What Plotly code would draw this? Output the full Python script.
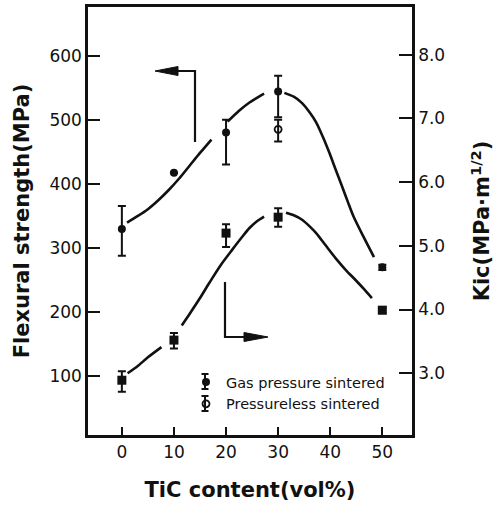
import plotly.graph_objects as go

# ---- data ----
ticx = [0, 10, 20, 30, 50]

# Flexural strength (MPa), gas pressure sintered
strength_gas = [330, 418, 481, 545, 270]
strength_gas_plus = [36, 0, 20, 25, 4]
strength_gas_minus = [42, 0, 50, 40, 4]

# Flexural strength (MPa), pressureless sintered
ticx_pl = [30]
strength_pl = [486]
strength_pl_plus = [15]
strength_pl_minus = [19]

# Fracture toughness KIC (MPa m^1/2), gas pressure sintered
kic_gas = [2.89, 3.52, 5.20, 5.45, 3.99]
kic_gas_plus = [0.14, 0.11, 0.14, 0.14, 0.05]
kic_gas_minus = [0.18, 0.13, 0.22, 0.15, 0.05]

# hand-drawn trend curves (None = gap at a marker)
strength_curve_x = [1.0, 3.0, 5.0, 7.0, 9.0, 11.0, 13.0, 15.0, 17.2, None,
                    20.3, 22.5, 24.5, 27.3, None,
                    31.2, 33.0, 34.6, 36.0, 37.3, 38.6, 39.8, 41.0, 42.3, 43.4, 44.5, 46.5, 48.4]
strength_curve_y = [340, 350, 361, 375, 391, 409, 429, 449, 470, None,
                    498, 515, 528, 542, None,
                    543, 537, 527, 513, 497, 474, 450, 424, 396, 372, 349, 316, 286]
kic_curve_x = [1.1, 3.0, 5.0, 7.6, None,
               11.5, 13.0, 15.0, 16.8, 19.0, 21.2, 23.0, 24.5, 26.0, 27.3, None,
               31.5, 33.0, 34.6, 36.0, 37.3, 39.0, 41.1, 43.0, 44.9, 46.5, 48.0]
kic_curve_y = [3.00, 3.11, 3.25, 3.41, None,
               3.75, 3.93, 4.18, 4.42, 4.70, 4.94, 5.13, 5.28, 5.39, 5.46, None,
               5.52, 5.48, 5.41, 5.31, 5.20, 5.02, 4.80, 4.62, 4.46, 4.32, 4.18]

left_ticks = [100, 200, 300, 400, 500, 600]
right_ticks = [3, 4, 5, 6, 7, 8]
right_ticktext = ["3.0", "4.0", "5.0", "6.0", "7.0", "8.0"]
x_ticks = [0, 10, 20, 30, 40, 50]

INK = "#111111"
TICKFONT = dict(family="DejaVu Sans", size=17, color=INK)
TITLEFONT = dict(family="DejaVu Sans", size=21, color=INK, weight="bold")

fig = go.Figure()

fig.add_trace(go.Scatter(x=strength_curve_x, y=strength_curve_y, mode="lines",
                         line=dict(color=INK, width=2.6, shape="spline", smoothing=0.8),
                         connectgaps=False, showlegend=False, hoverinfo="skip"))
fig.add_trace(go.Scatter(x=kic_curve_x, y=kic_curve_y, mode="lines", yaxis="y2",
                         line=dict(color=INK, width=2.6, shape="spline", smoothing=0.8),
                         connectgaps=False, showlegend=False, hoverinfo="skip"))

fig.add_trace(go.Scatter(
    x=ticx, y=strength_gas, mode="markers", name="Gas pressure sintered",
    marker=dict(symbol="circle", size=8, color=INK),
    error_y=dict(type="data", symmetric=False, array=strength_gas_plus,
                 arrayminus=strength_gas_minus, color=INK, thickness=2, width=4)))
fig.add_trace(go.Scatter(
    x=ticx_pl, y=strength_pl, mode="markers", name="Pressureless sintered",
    marker=dict(symbol="circle-open", size=7, color=INK, line=dict(width=1.8, color=INK)),
    error_y=dict(type="data", symmetric=False, array=strength_pl_plus,
                 arrayminus=strength_pl_minus, color=INK, thickness=2, width=4)))
fig.add_trace(go.Scatter(
    x=ticx, y=kic_gas, mode="markers", yaxis="y2", showlegend=False,
    marker=dict(symbol="square", size=9, color=INK),
    error_y=dict(type="data", symmetric=False, array=kic_gas_plus,
                 arrayminus=kic_gas_minus, color=INK, thickness=2, width=4)))

# layout helpers: window pixel -> paper coordinates
def px(xp):
    return (xp - 88) / 324.0

def py(yp):
    return (435 - yp) / 428.0

shapes = []
line_style = dict(color=INK, width=2.2)
# upper-left arrow (points to left axis)
shapes.append(dict(type="path", xref="paper", yref="paper",
                   path=f"M {px(195)} {py(142)} L {px(195)} {py(71)} L {px(176)} {py(71)}",
                   line=line_style))
shapes.append(dict(type="path", xref="paper", yref="paper",
                   path=f"M {px(155)} {py(71)} L {px(178)} {py(66.5)} L {px(178)} {py(75.5)} Z",
                   fillcolor=INK, line=dict(color=INK, width=1)))
# lower-right arrow (points to right axis)
shapes.append(dict(type="path", xref="paper", yref="paper",
                   path=f"M {px(225)} {py(282)} L {px(225)} {py(337)} L {px(246)} {py(337)}",
                   line=line_style))
shapes.append(dict(type="path", xref="paper", yref="paper",
                   path=f"M {px(268)} {py(337)} L {px(244)} {py(332.5)} L {px(244)} {py(341.5)} Z",
                   fillcolor=INK, line=dict(color=INK, width=1)))

# error-bar glyphs behind the legend symbols
LEG_LEFT = 186
LEG_MX = LEG_LEFT + 19
for (ytop, ybot) in [(374, 389), (396, 411)]:
    shapes.append(dict(type="line", xref="paper", yref="paper",
                       x0=px(LEG_MX), x1=px(LEG_MX), y0=py(ytop), y1=py(ybot),
                       line=dict(color=INK, width=2)))
    for yc in (ytop, ybot):
        shapes.append(dict(type="line", xref="paper", yref="paper",
                           x0=px(LEG_MX - 3.5), x1=px(LEG_MX + 3.5), y0=py(yc), y1=py(yc),
                           line=dict(color=INK, width=2)))

fig.update_layout(
    template="none",
    width=495, height=505,
    margin=dict(l=88, r=83, t=7, b=70, autoexpand=False),
    paper_bgcolor="white", plot_bgcolor="white",
    shapes=shapes,
    showlegend=True,
    legend=dict(x=px(LEG_LEFT), y=py(366), xanchor="left", yanchor="top",
                bgcolor="rgba(0,0,0,0)", borderwidth=0,
                font=dict(family="DejaVu Sans", size=14.5, color=INK),
                tracegroupgap=0, itemwidth=30),
    xaxis=dict(range=[-6.5, 55.7], tickvals=x_ticks, ticks="inside", ticklen=8,
               tickwidth=2, tickcolor=INK, showline=True, linewidth=2.5, linecolor=INK,
               mirror=True, showgrid=False, zeroline=False, tickfont=TICKFONT,
               automargin=False,
               title=dict(text="TiC content(vol%)", font=TITLEFONT, standoff=22)),
    yaxis=dict(range=[7.6, 677.4], tickvals=left_ticks, ticks="inside", ticklen=12,
               tickwidth=2, tickcolor=INK, showline=True, linewidth=2.5, linecolor=INK,
               showgrid=False, zeroline=False, tickfont=TICKFONT, automargin=False,
               title=dict(text="Flexural strength(MPa)", font=TITLEFONT, standoff=15)),
    yaxis2=dict(range=[2.03, 8.75], tickvals=right_ticks, ticktext=right_ticktext,
                overlaying="y", side="right", ticks="inside", ticklen=13,
                tickwidth=2, tickcolor=INK, showline=True, linewidth=2.5, linecolor=INK,
                showgrid=False, zeroline=False, tickfont=TICKFONT, automargin=False,
                title=dict(text="Kic(MPa·m<sup>1/2</sup>)", font=TITLEFONT, standoff=31)),
)

fig.write_html("out.html", config={"displayModeBar": False},
               post_script="document.body.style.margin='0';document.body.style.overflow='hidden';")
